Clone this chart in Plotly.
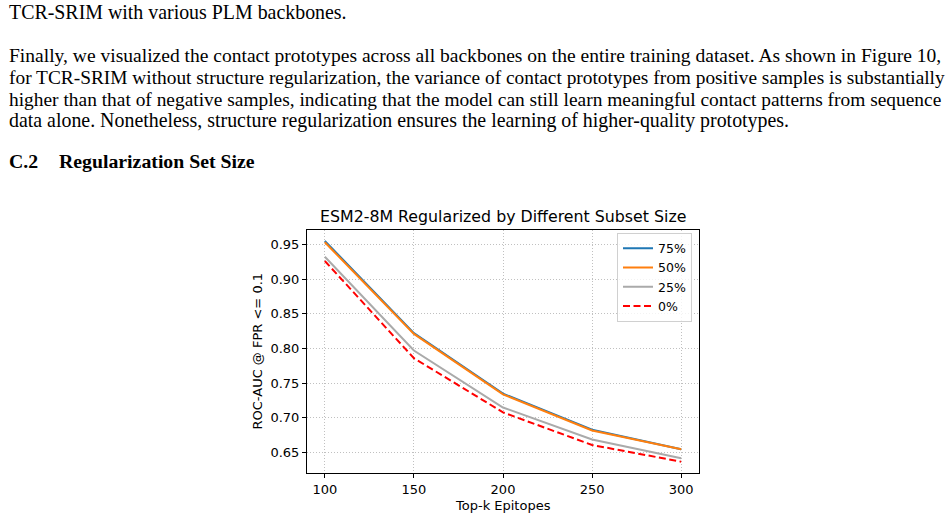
import plotly.graph_objects as go

W, H = 951, 520

# ---- data ----
topk = [100, 150, 200, 250, 300]
series_names = ["75%", "50%", "25%", "0%"]
auc_75 = [0.955, 0.822, 0.735, 0.683, 0.655]
auc_50 = [0.953, 0.821, 0.734, 0.682, 0.655]
auc_25 = [0.932, 0.797, 0.715, 0.669, 0.642]
auc_0 = [0.926, 0.786, 0.708, 0.661, 0.637]
x_ticks = [100, 150, 200, 250, 300]
y_ticks = [0.65, 0.70, 0.75, 0.80, 0.85, 0.90, 0.95]

title = "ESM2-8M Regularized by Different Subset Size"
xlabel = "Top-k Epitopes"
ylabel = "ROC-AUC @ FPR <= 0.1"

page_lines = [
    "TCR-SRIM with various PLM backbones.",
    "Finally, we visualized the contact prototypes across all backbones on the entire training dataset. As shown in Figure 10,",
    "for TCR-SRIM without structure regularization, the variance of contact prototypes from positive samples is substantially",
    "higher than that of negative samples, indicating that the model can still learn meaningful contact patterns from sequence",
    "data alone. Nonetheless, structure regularization ensures the learning of higher-quality prototypes.",
]
line_font_sizes = [19.9, 19.55, 19.38, 19.42, 19.9]
heading_num = "C.2"
heading_text = "Regularization Set Size"

# ---- layout geometry (pixels) ----
pl, pr, pt, pb = 307, 699, 230, 473

def px(x):
    return x / W

def py(y):
    return 1 - y / H

fig = go.Figure()
styles = [
    dict(color="#1f77b4", width=2),
    dict(color="#ff7f0e", width=2),
    dict(color="#aaaaaa", width=2),
    dict(color="red", width=2, dash="7px,3.5px"),
]
for name, vals, st in zip(series_names, [auc_75, auc_50, auc_25, auc_0], styles):
    fig.add_trace(go.Scatter(x=topk, y=vals, mode="lines", name=name, line=st))

axis_common = dict(
    showline=True, linecolor="black", linewidth=1, mirror=True,
    ticks="outside", ticklen=4, tickcolor="black", tickwidth=1,
    showgrid=True, gridcolor="#c0c0c0", griddash="1px,2px", gridwidth=1,
    zeroline=False,
    tickfont=dict(family="DejaVu Sans", size=13, color="black"),
)

fig.update_layout(
    width=W, height=H,
    margin=dict(l=0, r=0, t=0, b=0),
    paper_bgcolor="white", plot_bgcolor="white",
    xaxis=dict(domain=[px(pl), px(pr)], range=[90, 310], tickvals=x_ticks,
               **axis_common),
    yaxis=dict(domain=[py(pb), py(pt)], range=[0.6207, 0.9706], tickvals=y_ticks,
               tickformat=".2f", **axis_common),
    legend=dict(
        x=px(692), xanchor="right", y=py(232.5), yanchor="top",
        bgcolor="rgba(255,255,255,0.8)", bordercolor="#d0d0d0", borderwidth=1,
        font=dict(family="DejaVu Sans", size=12.5, color="black"),
        tracegroupgap=0,
    ),
    showlegend=True,
)

ann = []
serif = "Liberation Serif"
line_y = [11.5, 55.5, 77, 99, 120.5]
for txt, yy, fs in zip(page_lines, line_y, line_font_sizes):
    ann.append(dict(text=txt, x=px(7), y=py(yy), xref="paper", yref="paper",
                    xanchor="left", yanchor="middle", showarrow=False,
                    font=dict(family=serif, size=fs, color="black")))
ann.append(dict(text="<b>%s</b>" % heading_num, x=px(7), y=py(160.5), xref="paper", yref="paper",
                xanchor="left", yanchor="middle", showarrow=False,
                font=dict(family=serif, size=19.8, color="black")))
ann.append(dict(text="<b>%s</b>" % heading_text, x=px(57), y=py(160.5), xref="paper", yref="paper",
                xanchor="left", yanchor="middle", showarrow=False,
                font=dict(family=serif, size=19.8, color="black")))
ann.append(dict(text=title, x=px(503), y=py(216.5), xref="paper", yref="paper",
                xanchor="center", yanchor="middle", showarrow=False,
                font=dict(family="DejaVu Sans", size=15.8, color="black")))
ann.append(dict(text=xlabel, x=px(503), y=py(505.5), xref="paper", yref="paper",
                xanchor="center", yanchor="middle", showarrow=False,
                font=dict(family="DejaVu Sans", size=13, color="black")))
ann.append(dict(text=ylabel, x=px(257), y=py(351.5), xref="paper", yref="paper",
                xanchor="center", yanchor="middle", showarrow=False, textangle=-90,
                font=dict(family="DejaVu Sans", size=13, color="black")))
fig.update_layout(annotations=ann)

fig.write_html("out.html")
